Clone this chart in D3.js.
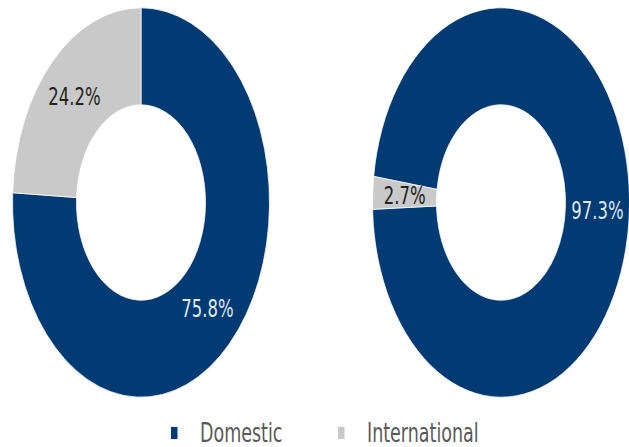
<!DOCTYPE html>
<html>
<head>
<meta charset="utf-8">
<script src="https://cdn.jsdelivr.net/npm/d3@7"></script>
<style>
html,body{margin:0;padding:0;background:#fff;}
svg{display:block;}
</style>
</head>
<body>
<svg id="chart" width="629" height="447"></svg>
<script>
const categories = ["Domestic", "International"];
const leftValues = [75.8, 24.2];
const rightValues = [97.3, 2.7];
const leftLabels = ["75.8%", "24.2%"];
const rightLabels = ["97.3%", "2.7%"];

const colors = d3.scaleOrdinal().domain(categories).range(["#023a74", "#c9c9c9"]);
const labelColors = d3.scaleOrdinal().domain(categories).range(["#dfe8f3", "#222222"]);

const W = 629, H = 447, sy = 1.515;
const svg = d3.select("#chart");
const g = svg.append("g").attr("transform", `scale(1,${sy})`);

const rOuter = 128.5, rInner = 64.5;
const cy = 202.5 / sy;
const arc = d3.arc().innerRadius(rInner).outerRadius(rOuter);
const labelArc = d3.arc().innerRadius((rInner + rOuter) / 2).outerRadius((rInner + rOuter) / 2);

const deg = Math.PI / 180;
const charts = [
  {cx: 141, values: leftValues, labels: leftLabels, start: 0},
  {cx: 501, values: rightValues, labels: rightLabels, start: 277.7 * deg}
];

charts.forEach(c => {
  const pie = d3.pie().sort(null).value(d => d.v)
    .startAngle(c.start).endAngle(c.start + 2 * Math.PI);
  const data = pie(categories.map((k, i) => ({k, v: c.values[i], label: c.labels[i]})));
  const cg = g.append("g").attr("transform", `translate(${c.cx},${cy})`);
  cg.selectAll("path").data(data).join("path")
    .attr("d", arc)
    .attr("fill", d => colors(d.data.k))
    .attr("stroke", "#ffffff").attr("stroke-width", 0.6);
  cg.selectAll("text").data(data).join("text")
    .attr("x", d => labelArc.centroid(d)[0])
    .attr("y", d => labelArc.centroid(d)[1])
    .attr("text-anchor", "middle")
    .attr("dominant-baseline", "central")
    .attr("font-family", "DejaVu Sans, Verdana, sans-serif")
    .attr("font-size", 16.5)
    .attr("fill", d => labelColors(d.data.k))
    .text(d => d.data.label);
});

// Legend
const legendY = 433 / sy;
const legendItems = [{k: "Domestic", x: 171}, {k: "International", x: 338}];
const lg = g.append("g");
legendItems.forEach(item => {
  lg.append("rect")
    .attr("x", item.x).attr("y", legendY - 4)
    .attr("width", 6.5).attr("height", 8)
    .attr("fill", colors(item.k));
  lg.append("text")
    .attr("x", item.x + 29).attr("y", legendY)
    .attr("dominant-baseline", "central")
    .attr("font-family", "DejaVu Sans, Verdana, sans-serif")
    .attr("font-size", 17.5)
    .attr("fill", "#595959")
    .text(item.k);
});
</script>
</body>
</html>
